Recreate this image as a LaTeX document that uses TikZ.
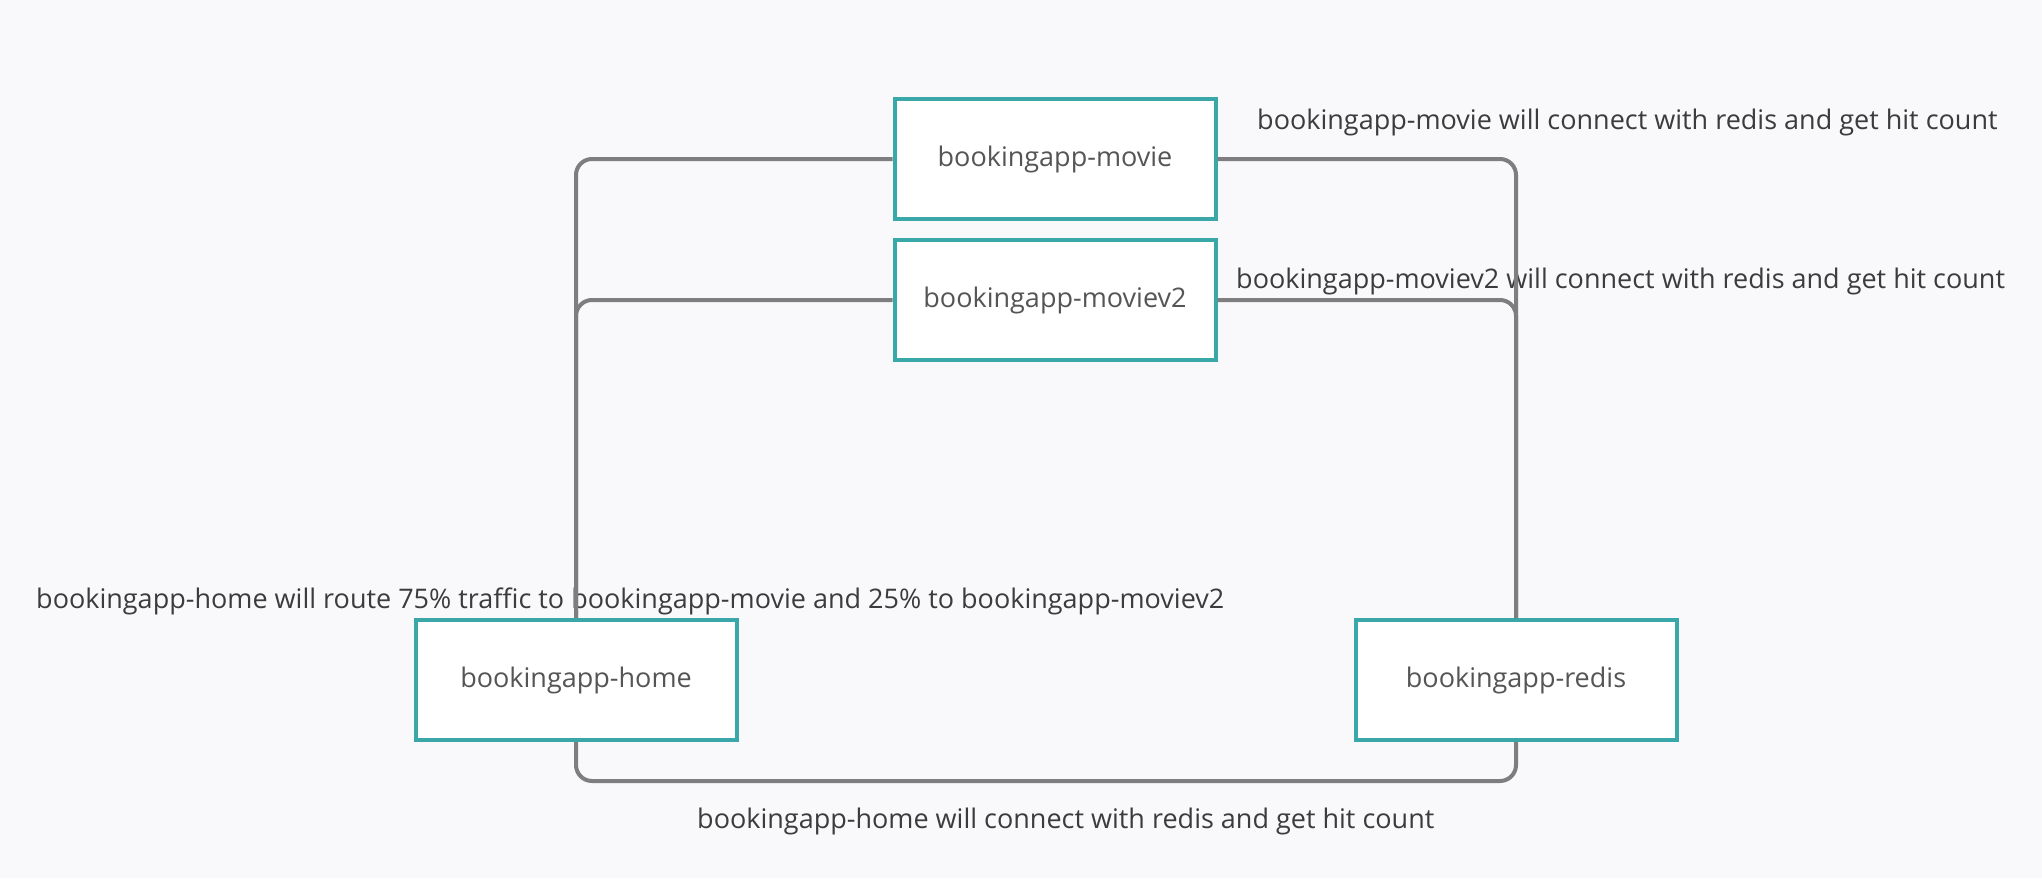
\documentclass[tikz,border=0pt]{standalone}
\usepackage{fontspec}
\setmainfont{Open Sans}
\definecolor{bgc}{HTML}{F9F9FB}
\definecolor{teal}{HTML}{3AA8A8}
\definecolor{linec}{HTML}{7E7E80}
\definecolor{txtc}{HTML}{3C3C3C}
\definecolor{boxtxt}{HTML}{555555}
\tikzset{
  svc/.style={draw=teal, line width=4pt, fill=white, minimum width=321pt, minimum height=120pt, inner sep=0pt, text=boxtxt, font=\fontsize{27}{32}\selectfont},
  conn/.style={draw=linec, line width=4pt, rounded corners=16pt},
  note/.style={text=txtc, inner sep=0pt, font=\fontsize{27}{32}\selectfont}
}
\begin{document}
\begin{tikzpicture}[x=1pt,y=-1pt]
\useasboundingbox[fill=bgc] (0,0) rectangle (2042,878);
\node[svc] (movie) at (1055,159) {bookingapp-movie};
\node[svc] (moviev2) at (1055,300) {bookingapp-moviev2};
\node[svc] (home) at (576,680) {bookingapp-home};
\node[svc] (redis) at (1516,680) {bookingapp-redis};
\node[note, anchor=west] (t1) at (1257,122) {bookingapp-movie will connect with redis and get hit count};
\node[note, anchor=west] (t2) at (1236,281) {bookingapp-moviev2 will connect with redis and get hit count};
\node[note, anchor=west] (t3) at (36,601) {bookingapp-home will route 75\% traffic to bookingapp-movie and 25\% to bookingapp-moviev2};
\node[note, anchor=west] (t4) at (697,821) {bookingapp-home will connect with redis and get hit count};
\draw[conn] (home.north) |- (movie.west);
\draw[conn] (home.north) |- (moviev2.west);
\draw[conn] (movie.east) -| (redis.north);
\draw[conn] (moviev2.east) -| (redis.north);
\draw[conn] (home.south) -- ++(0,39) -| (redis.south);
\end{tikzpicture}
\end{document}
